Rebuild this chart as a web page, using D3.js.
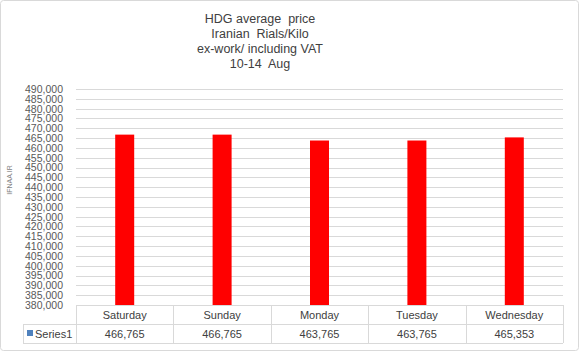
<!DOCTYPE html>
<html><head><meta charset="utf-8">
<script src="https://cdn.jsdelivr.net/npm/d3@7"></script>
<style>body{margin:0;background:#fff;}svg{display:block;font-family:"Liberation Sans",Arial,sans-serif;}</style>
</head><body>
<script>
const titleLines = ["HDG average  price", "Iranian  Rials/Kilo", "ex-work/ including VAT", "10-14  Aug"];
const categories = ["Saturday", "Sunday", "Monday", "Tuesday", "Wednesday"];
const values = [466765, 466765, 463765, 463765, 465353];
const valueLabels = ["466,765", "466,765", "463,765", "463,765", "465,353"];
const seriesName = "Series1";
const yTicks = d3.range(380000, 490001, 5000);
const watermark = "IFNAA.IR";

const W = 579, H = 351;
const svg = d3.select("body").append("svg").attr("width", W).attr("height", H);
svg.append("rect").attr("x", 0.5).attr("y", 0.5).attr("width", W - 1).attr("height", H - 1)
  .attr("fill", "#fff").attr("stroke", "#d9d9d9").attr("rx", 3);

const pL = 76, pR = 563, pT = 89, pB = 305;
const x = d3.scaleBand().domain(categories).range([pL, pR]);
const y = d3.scaleLinear().domain([380000, 490000]).range([pB, pT]);

// title
svg.append("g").selectAll("text").data(titleLines).join("text")
  .attr("x", 260).attr("y", (d, i) => 23 + i * 15)
  .attr("text-anchor", "middle").attr("font-size", 12.5).attr("fill", "#404040")
  .style("white-space", "pre").text(d => d);

// gridlines
svg.append("g").selectAll("line").data(yTicks.slice(1)).join("line")
  .attr("x1", pL).attr("x2", pR).attr("y1", d => Math.round(y(d)) + 0.5).attr("y2", d => Math.round(y(d)) + 0.5)
  .attr("stroke", "#d9d9d9");

// y axis labels
const yAxis = d3.axisLeft(y).tickValues(yTicks).tickSize(0).tickPadding(0).tickFormat(d3.format(","));
const ga = svg.append("g").attr("transform", `translate(${pL - 13},0)`).call(yAxis);
ga.select(".domain").remove();
ga.selectAll("text").attr("font-size", 10.5).attr("fill", "#595959").attr("font-family", "Liberation Sans, Arial, sans-serif");

// watermark
svg.append("text").attr("transform", "translate(12,180) rotate(-90)").attr("text-anchor", "middle")
  .attr("font-size", 7).attr("fill", "#7f7f7f").text(watermark);

// bars
const bw = 19;
svg.append("g").selectAll("rect").data(values).join("rect")
  .attr("x", (d, i) => x(categories[i]) + x.bandwidth() / 2 - bw / 2)
  .attr("width", bw)
  .attr("y", d => y(d)).attr("height", d => pB - y(d))
  .attr("fill", "#ff0000");

// data table
const r1 = 305, r2 = 324, r3 = 343, tl = 23;
const tg = svg.append("g").attr("stroke", "#d9d9d9").attr("fill", "none");
tg.append("line").attr("x1", pL).attr("x2", pR).attr("y1", r1 + 0.5).attr("y2", r1 + 0.5);
tg.append("line").attr("x1", tl).attr("x2", pR).attr("y1", r2 + 0.5).attr("y2", r2 + 0.5);
tg.append("line").attr("x1", tl).attr("x2", pR).attr("y1", r3 + 0.5).attr("y2", r3 + 0.5);
tg.append("line").attr("x1", tl + 0.5).attr("x2", tl + 0.5).attr("y1", r2).attr("y2", r3);
const cols = categories.map(c => x(c)).concat([pR]);
tg.selectAll("line.v").data(cols).join("line").attr("class", "v")
  .attr("x1", d => Math.round(d) + 0.5).attr("x2", d => Math.round(d) + 0.5)
  .attr("y1", r1).attr("y2", r3);

svg.append("g").selectAll("text").data(categories).join("text")
  .attr("x", d => x(d) + x.bandwidth() / 2).attr("y", r1 + 14)
  .attr("text-anchor", "middle").attr("font-size", 11).attr("fill", "#404040").text(d => d);
svg.append("g").selectAll("text").data(valueLabels).join("text")
  .attr("x", (d, i) => x(categories[i]) + x.bandwidth() / 2).attr("y", r2 + 14)
  .attr("text-anchor", "middle").attr("font-size", 11).attr("fill", "#404040").text(d => d);
svg.append("rect").attr("x", 27).attr("y", 330).attr("width", 6).attr("height", 6).attr("fill", "#4f81bd");
svg.append("text").attr("x", 35).attr("y", r2 + 14).attr("font-size", 11).attr("fill", "#404040").text(seriesName);
</script>
</body></html>
